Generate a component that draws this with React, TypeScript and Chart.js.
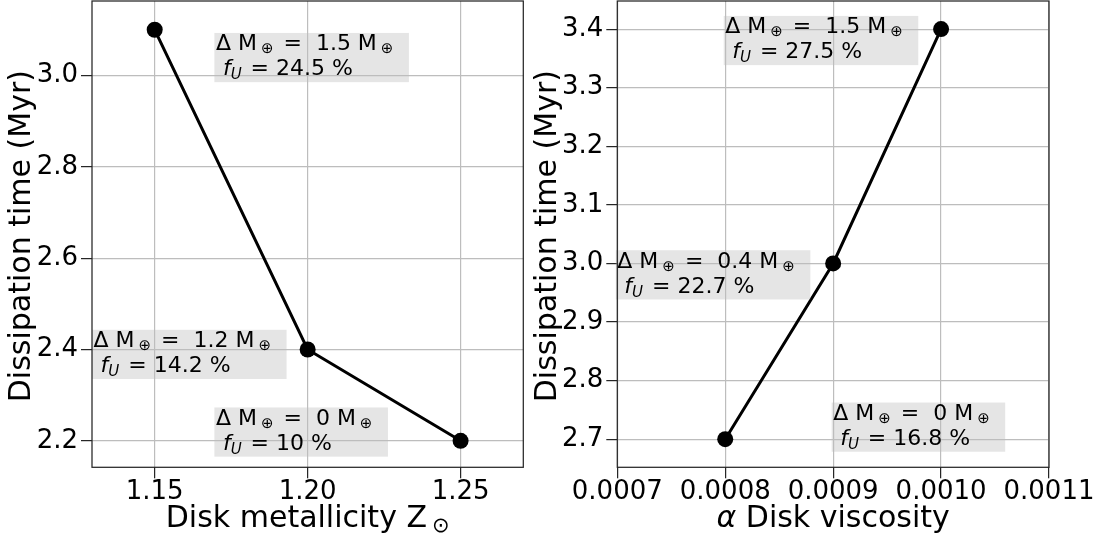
import React, { useEffect, useRef } from 'react';
import { Chart, registerables } from 'chart.js';

Chart.register(...registerables);

const W = 1101;
const H = 540;
const FONT = 'DejaVu Sans';

// ---- Left panel data: disk metallicity ----
const metallicity = [1.15, 1.2, 1.25];
const metalDissipation = [3.1, 2.4, 2.2];
const metalMassGain = ['1.5', '1.2', '0'];
const metalFU = ['24.5', '14.2', '10'];
const metalLabelX = [1.17, 1.13, 1.17];
const metalLabelY = [3.0, 2.35, 2.18];
const metalXTicks = [1.15, 1.2, 1.25];
const metalYTicks = [2.2, 2.4, 2.6, 2.8, 3.0];

// ---- Right panel data: alpha disk viscosity ----
const viscosity = [0.0008, 0.0009, 0.001];
const viscDissipation = [2.7, 3.0, 3.4];
const viscMassGain = ['0', '0.4', '1.5'];
const viscFU = ['16.8', '22.7', '27.5'];
const viscLabelX = [0.0009, 0.0007, 0.0008];
const viscLabelY = [2.69, 2.95, 3.35];
const viscXTicks = [0.0007, 0.0008, 0.0009, 0.001, 0.0011];
const viscYTicks = [2.7, 2.8, 2.9, 3.0, 3.1, 3.2, 3.3, 3.4];

type Seg = { text: string; size: number; italic?: boolean; dx?: number; dy?: number };

function fontStr(s: Seg) {
  return `${s.italic ? 'italic ' : ''}${s.size}px "${FONT}"`;
}
function segWidth(ctx: CanvasRenderingContext2D, segs: Seg[]) {
  let w = 0;
  for (const s of segs) {
    ctx.font = fontStr(s);
    w += (s.dx || 0) + ctx.measureText(s.text).width;
  }
  return w;
}
function drawSegs(ctx: CanvasRenderingContext2D, segs: Seg[], x: number, y: number) {
  let cx = x;
  for (const s of segs) {
    ctx.font = fontStr(s);
    cx += s.dx || 0;
    ctx.fillText(s.text, cx, y + (s.dy || 0));
    cx += ctx.measureText(s.text).width;
  }
}

type Spec = {
  xs: number[];
  ys: number[];
  mass: string[];
  fu: string[];
  labelX: number[];
  labelY: number[];
  xTicks: number[];
  yTicks: number[];
  xDec: number;
  yDec: number;
  xMin: number;
  xMax: number;
  yMin: number;
  yMax: number;
  area: { left: number; right: number; top: number; bottom: number };
  xTitle: Seg[];
  yTitle: string;
};

const ANN = 22;
const SUB = 15;
const TICK = 26;
const TITLE = 30;

function decorPlugin(spec: Spec) {
  return {
    id: 'decor',
    afterDraw(chart: any) {
      const ctx: CanvasRenderingContext2D = chart.ctx;
      const a = chart.chartArea;
      const xs = chart.scales.x;
      const ys = chart.scales.y;
      ctx.save();
      ctx.textAlign = 'left';
      ctx.textBaseline = 'alphabetic';
      for (let i = 0; i < spec.labelX.length; i++) {
        const x0 = xs.getPixelForValue(spec.labelX[i]);
        const yb2 = ys.getPixelForValue(spec.labelY[i]);
        const yb1 = yb2 - 25;
        const line1: Seg[] = [
          { text: '\u0394 M', size: ANN },
          { text: '\u2295', size: SUB, dx: 4, dy: 3 },
          { text: ' =  ' + spec.mass[i] + ' M', size: ANN, dx: 3 },
          { text: '\u2295', size: SUB, dx: 4, dy: 3 },
        ];
        const line2: Seg[] = [
          { text: 'f', size: ANN, italic: true, dx: 7 },
          { text: 'U', size: 15, italic: true, dx: 0, dy: 4 },
          { text: ' = ' + spec.fu[i] + ' %', size: ANN, dx: 2 },
        ];
        const w1 = segWidth(ctx, line1);
        const top = yb1 - 17.5;
        const bottom = yb2 + 6.7;
        ctx.fillStyle = 'rgba(190,190,190,0.4)';
        ctx.fillRect(x0 - 1.5, top, w1 + 17, bottom - top);
        ctx.fillStyle = '#000';
        drawSegs(ctx, line1, x0, yb1);
        drawSegs(ctx, line2, x0, yb2);
      }
      // spines
      ctx.strokeStyle = '#262626';
      ctx.lineWidth = 1.25;
      ctx.strokeRect(a.left, a.top, a.right - a.left, a.bottom - a.top);
      // x title
      ctx.fillStyle = '#000';
      const tw = segWidth(ctx, spec.xTitle);
      drawSegs(ctx, spec.xTitle, (a.left + a.right) / 2 - tw / 2, a.bottom + 60);
      // y title
      ctx.translate(a.left - 61.7, (a.top + a.bottom) / 2 + 2);
      ctx.rotate(-Math.PI / 2);
      ctx.textAlign = 'center';
      ctx.font = `${TITLE}px "${FONT}"`;
      ctx.fillText(spec.yTitle, 0, 0);
      ctx.restore();
    },
  };
}

const ZERO_PAD = () => ({ left: 0, top: 0, right: 0, bottom: 0 });

function Panel({ spec }: { spec: Spec }) {
  const ref = useRef<HTMLCanvasElement>(null);
  useEffect(() => {
    const a = spec.area;
    const fit = { yWidth: a.left, xHeight: H - a.bottom };
    const pad = { left: 0, top: a.top, right: W - a.right, bottom: 0 };
    const gridOpts = {
      color: '#bdbdbd',
      lineWidth: 1.2,
      tickColor: '#262626',
      tickLength: 11,
      tickWidth: 1.25,
    };
    const chart = new Chart(ref.current as HTMLCanvasElement, {
      type: 'line',
      data: {
        datasets: [
          {
            data: spec.xs.map((x, i) => ({ x, y: spec.ys[i] })),
            borderColor: '#000',
            backgroundColor: '#000',
            borderWidth: 3,
            pointRadius: 8,
            pointBorderWidth: 0,
            pointBackgroundColor: '#000',
            tension: 0,
          },
        ],
      },
      options: {
        animation: false,
        responsive: false,
        maintainAspectRatio: false,
        events: [],
        layout: { autoPadding: false, padding: { ...pad } },
        plugins: { legend: { display: false }, tooltip: { enabled: false } },
        scales: {
          x: {
            type: 'linear',
            min: spec.xMin,
            max: spec.xMax,
            afterBuildTicks: (s: any) => {
              s.ticks = spec.xTicks.map((v) => ({ value: v }));
            },
            afterFit: (s: any) => {
              s.height = fit.xHeight;
              s.paddingLeft = 0;
              s.paddingRight = 0;
              s.paddingTop = 0;
              s.paddingBottom = 0;
              s.getPadding = ZERO_PAD;
            },
            grid: gridOpts,
            border: { display: false },
            ticks: {
              font: { family: FONT, size: TICK },
              color: '#000',
              padding: -2,
              maxRotation: 0,
              autoSkip: false,
              callback: (v: any) => Number(v).toFixed(spec.xDec),
            },
          },
          y: {
            type: 'linear',
            min: spec.yMin,
            max: spec.yMax,
            afterBuildTicks: (s: any) => {
              s.ticks = spec.yTicks.map((v) => ({ value: v }));
            },
            afterFit: (s: any) => {
              s.width = fit.yWidth;
              s.paddingLeft = 0;
              s.paddingRight = 0;
              s.paddingTop = 0;
              s.paddingBottom = 0;
              s.getPadding = ZERO_PAD;
            },
            grid: gridOpts,
            border: { display: false },
            ticks: {
              font: { family: FONT, size: TICK },
              color: '#000',
              padding: 3,
              autoSkip: false,
              callback: (v: any) => Number(v).toFixed(spec.yDec),
            },
          },
        },
      },
      plugins: [decorPlugin(spec)],
    } as any);
    // make sure the plot area lands exactly where it should
    for (let k = 0; k < 4; k++) {
      const ca = chart.chartArea;
      const dTop = a.top - ca.top;
      const dRight = ca.right - a.right;
      const dLeft = a.left - ca.left;
      const dBottom = ca.bottom - a.bottom;
      if (Math.abs(dTop) + Math.abs(dRight) + Math.abs(dLeft) + Math.abs(dBottom) < 0.05) break;
      pad.top += dTop;
      pad.right += dRight;
      fit.yWidth += dLeft;
      fit.xHeight += dBottom;
      (chart.config.options as any).layout.padding = { ...pad };
      chart.update();
    }
    return () => chart.destroy();
  }, [spec]);
  return (
    <canvas
      ref={ref}
      width={W}
      height={H}
      style={{ position: 'absolute', left: 0, top: 0, width: W, height: H }}
    />
  );
}

const leftSpec: Spec = {
  xs: metallicity,
  ys: metalDissipation,
  mass: metalMassGain,
  fu: metalFU,
  labelX: metalLabelX,
  labelY: metalLabelY,
  xTicks: metalXTicks,
  yTicks: metalYTicks,
  xDec: 2,
  yDec: 1,
  xMin: 1.1295,
  xMax: 1.2705,
  yMin: 2.142,
  yMax: 3.163,
  area: { left: 92, right: 523.3, top: 1, bottom: 467.3 },
  xTitle: [
    { text: 'Disk metallicity Z', size: TITLE },
    { text: '\u2299', size: 21, dx: 5, dy: 5 },
  ],
  yTitle: 'Dissipation time (Myr)',
};

const rightSpec: Spec = {
  xs: viscosity,
  ys: viscDissipation,
  mass: viscMassGain,
  fu: viscFU,
  labelX: viscLabelX,
  labelY: viscLabelY,
  xTicks: viscXTicks,
  yTicks: viscYTicks,
  xDec: 4,
  yDec: 1,
  xMin: 0.0007,
  xMax: 0.0011,
  yMin: 2.652,
  yMax: 3.448,
  area: { left: 617.3, right: 1049, top: 1, bottom: 467.3 },
  xTitle: [
    { text: '\u03b1', size: TITLE, italic: true },
    { text: ' Disk viscosity', size: TITLE },
  ],
  yTitle: 'Dissipation time (Myr)',
};

export default function App() {
  return (
    <div style={{ position: 'fixed', left: 0, top: 0, width: W, height: H, background: '#fff' }}>
      <Panel spec={leftSpec} />
      <Panel spec={rightSpec} />
    </div>
  );
}
